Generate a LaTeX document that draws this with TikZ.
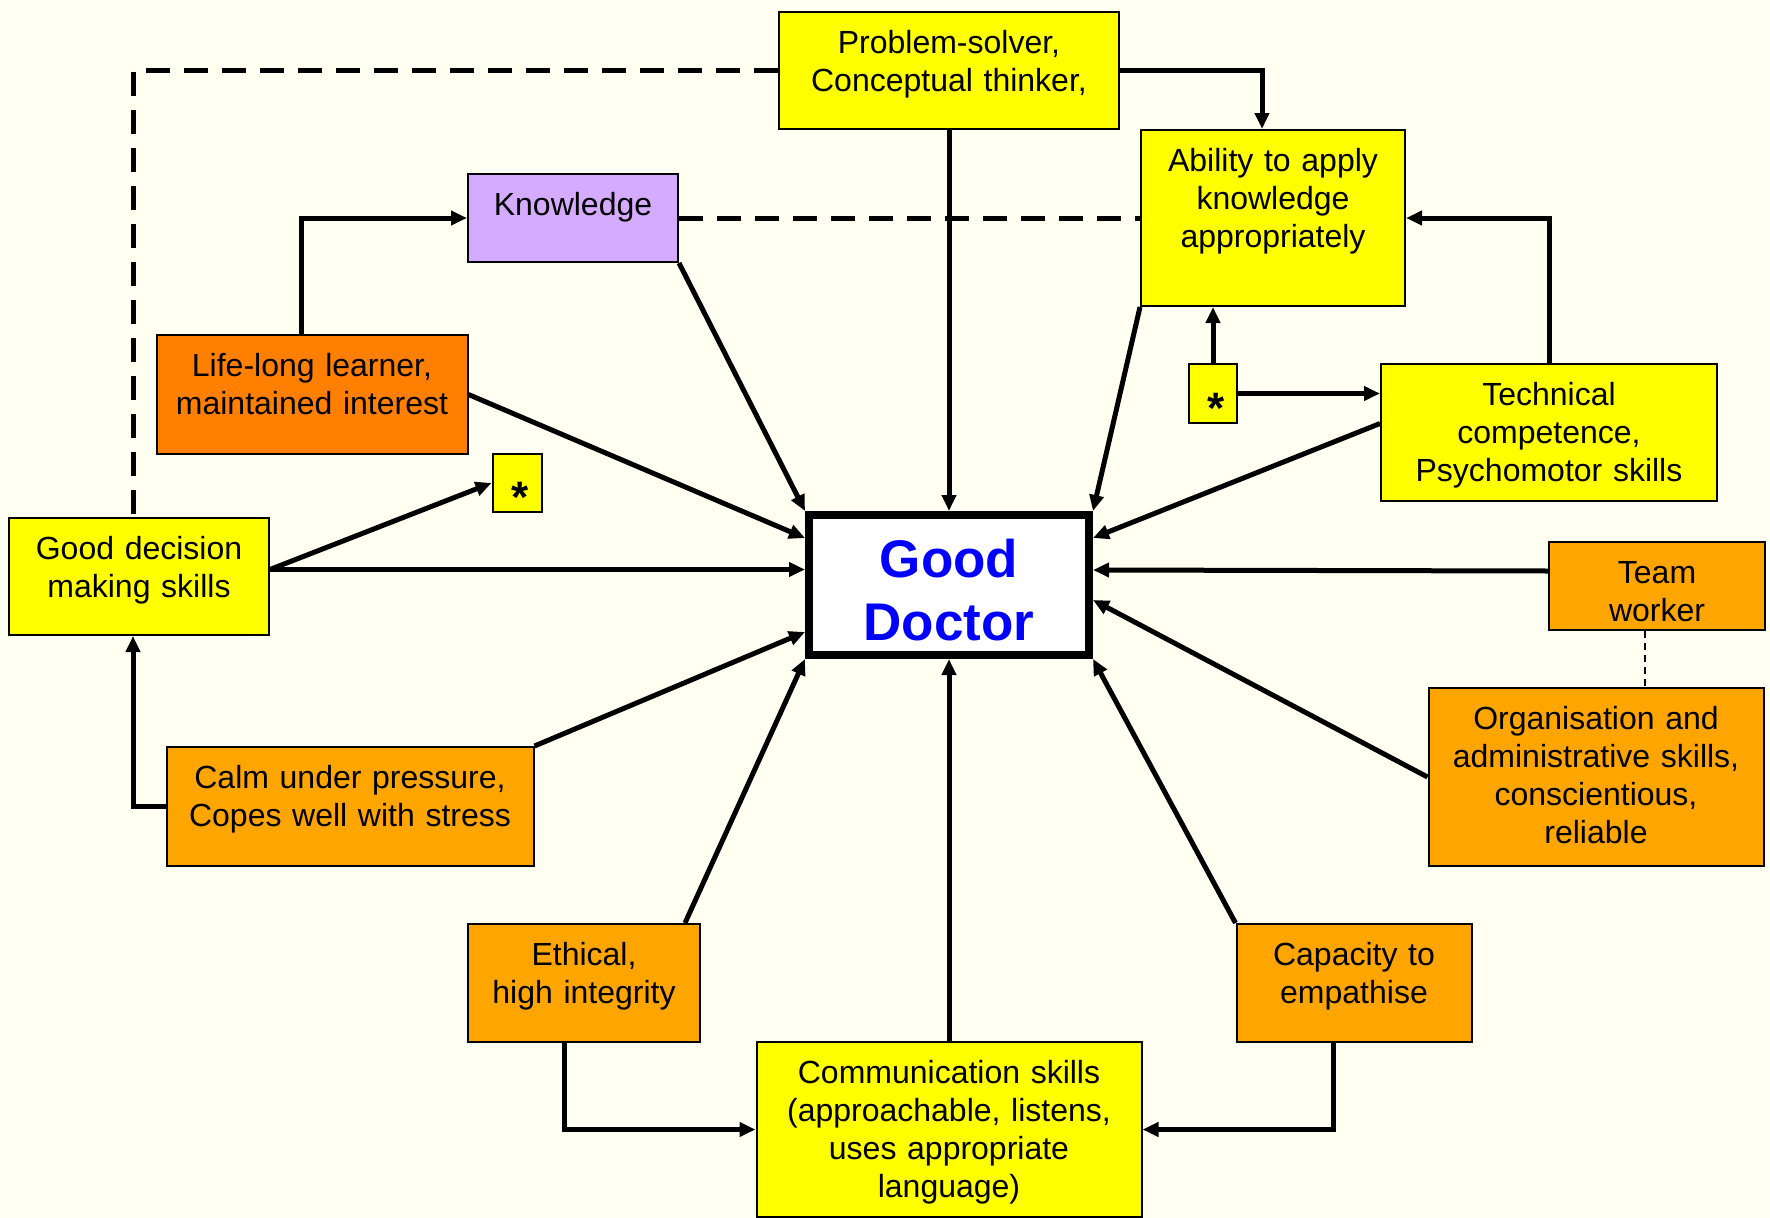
\documentclass[tikz,border=0pt]{standalone}
\usepackage{fontspec}
\setmainfont{Liberation Sans}
\usetikzlibrary{arrows.meta}
\definecolor{cream}{HTML}{FFFFF2}
\definecolor{boxyellow}{HTML}{FFFF00}
\definecolor{boxorange}{HTML}{FFA500}
\definecolor{boxdarkorange}{HTML}{FF7F00}
\definecolor{boxlilac}{HTML}{D5ABFF}

\begin{document}
\begin{tikzpicture}[x=1pt,y=-1pt,
    box/.style={draw=black, line width=2pt, inner sep=0pt, anchor=north,
      align=center, font=\fontsize{32}{38}\selectfont, text height=41pt},
    starbox/.style={box, fill=boxyellow, text depth=0pt, font=\fontsize{44}{44}\selectfont\bfseries},
    link/.style={line width=5pt, -{Triangle[length=16pt,width=14pt]}},
    dashlink/.style={line width=5pt, dash pattern=on 24pt off 14pt}]
          \useasboundingbox (0,0) rectangle (1770,1218);
          \fill[cream] (0,0) rectangle (1770,1218);

          \node[box, fill=boxyellow, text width=340pt, text depth=76pt] (ps) at (949,11) {Problem-solver,\\Conceptual thinker,};
          \node[box, fill=boxyellow, text width=264pt, text depth=135pt] (abl) at (1273,129) {Ability to apply\\knowledge\\appropriately};
          \node[box, fill=boxlilac, text width=210pt, text depth=47pt] (know) at (573,173) {Knowledge};
          \node[box, fill=boxdarkorange, text width=311pt, text depth=78pt] (life) at (312,334) {Life-long learner,\\maintained interest};
          \node[starbox, text width=49pt, text height=58pt] (star1) at (517,453) {\hspace*{6pt}*};
          \node[box, fill=boxyellow, text width=260pt, text depth=76pt] (gdm) at (139,517) {Good decision\\making skills};
          \node[starbox, text width=48pt, text height=59pt] (star2) at (1213,363) {\hspace*{6pt}*};
          \node[box, fill=boxyellow, text width=336pt, text depth=96pt] (tech) at (1549,363) {Technical\\competence,\\Psychomotor skills};
          \node[box, fill=boxorange, text width=216pt, text depth=47pt] (team) at (1657,541) {Team\\worker};
          \node[box, fill=boxorange, text width=335pt, text depth=137pt] (org) at (1596,687) {Organisation and\\administrative skills,\\conscientious,\\reliable};
          \node[box, fill=boxorange, text width=367pt, text depth=78pt] (calm) at (350,746) {Calm under pressure,\\Copes well with stress};
          \node[box, fill=boxorange, text width=232pt, text depth=77pt] (eth) at (584,923) {Ethical,\\high integrity};
          \node[box, fill=boxorange, text width=235pt, text depth=77pt] (cap) at (1354,923) {Capacity to\\empathise};
          \node[box, fill=boxyellow, text width=385pt, text depth=134pt] (com) at (949,1041) {Communication skills\\(approachable, listens,\\uses appropriate\\language)};

          % the centre
          \node[box, fill=white, line width=8pt, text width=280pt, text height=62pt, text depth=78pt,
            font=\fontsize{53}{63}\selectfont\bfseries, text=blue] (doc) at (949,511) {Good\\Doctor};

          \draw[link] (ps.east) -| ([xshift=-11pt]abl.north);
          \draw[link] (ps.south) -- (doc.north);
          \draw[dashlink] (ps.west) -| ([xshift=-6pt]gdm.north);
          \draw[dashlink] (know.east) -- (know.east -| abl.west);
          \draw[link] ([xshift=-11pt]life.north) |- (know.west);
          \draw[link] (know.south east) -- (doc.north west);
          \draw[link] (abl.south west) -- (doc.north east);
          \draw[link] (life.east) -- ([yshift=47pt]doc.west);
          \draw[link] ([yshift=7pt]gdm.east) -- (star1.west);
          \draw[link] ([yshift=7pt]gdm.east) -- ([yshift=7pt]gdm.east -| doc.west);
          \draw[link] (calm.west) -| ([xshift=-6pt]gdm.south);
          \draw[link] (calm.north east) -- ([yshift=-47pt]doc.west);
          \draw[link] ([xshift=-16pt]eth.north east) -- (doc.south west);
          \draw[link] (com.north) -- (doc.south);
          \draw[link] (cap.north west) -- (doc.south east);
          \draw[link] ([xshift=-20pt]eth.south) |- (com.west);
          \draw[link] ([xshift=-21pt]cap.south) |- (com.east);
          \draw[link] (org.west) -- ([yshift=-15pt]doc.east);
          \draw[link] ([yshift=15pt]team.west) -- ([yshift=15pt]doc.east);
          \draw[link] ([yshift=9pt]tech.west) -- ([yshift=47pt]doc.east);
          \draw[link] (tech.north) |- (abl.east);
          \draw[link] (star2.north) -- (star2.north |- abl.south);
          \draw[link] (star2.east) -- (star2.east -| tech.west);
          \draw[line width=1.5pt, dash pattern=on 7pt off 5pt] ([xshift=-12pt]team.south) -- ([xshift=-12pt]team.south |- org.north);
        \end{tikzpicture}
\end{document}
